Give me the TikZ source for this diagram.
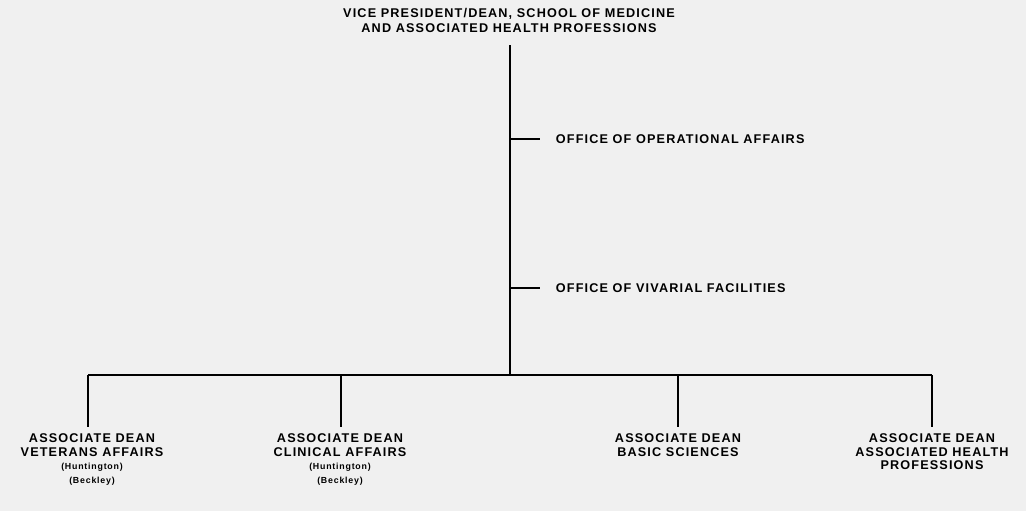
\documentclass[tikz,border=0pt]{standalone}
\usepackage{fontspec}
\setmainfont{Liberation Sans}
\newfontfamily\orgfont[LetterSpace=9]{Liberation Sans}
\newcommand\placetxt[1]{{\fontsize{6.6}{9.8}\selectfont\bfseries #1}}
\begin{document}
\begin{tikzpicture}[x=0.75pt, y=-0.75pt, line width=1.4pt,
  lbl/.style={font=\orgfont\fontsize{9.5}{10.1}\selectfont\bfseries, align=center, inner sep=0pt}]

\fill[black!6] (0,0) rectangle (1026,511);
\useasboundingbox (0,0) rectangle (1026,511);

\node[lbl, anchor=north, font=\orgfont\fontsize{9.5}{11.2}\selectfont\bfseries] (vp) at (509,7) {VICE PRESIDENT/DEAN, SCHOOL OF MEDICINE\\AND ASSOCIATED HEALTH PROFESSIONS};

\coordinate (trunk) at (510,45);
\coordinate (hub) at (510,375);
\coordinate (t1) at (510,139);
\coordinate (t2) at (510,288);

\node[lbl, anchor=west] (ops) at (555,139) {OFFICE OF OPERATIONAL AFFAIRS};
\node[lbl, anchor=west] (viv) at (555,288) {OFFICE OF VIVARIAL FACILITIES};

\coordinate (b1) at (88,375);
\coordinate (b2) at (341,375);
\coordinate (b3) at (678,375);
\coordinate (b4) at (932,375);

\node[lbl, anchor=north] (vet) at (92,433) {ASSOCIATE DEAN\\VETERANS AFFAIRS\\\placetxt{(Huntington)}\\\placetxt{(Beckley)}};
\node[lbl, anchor=north] (clin) at (340,433) {ASSOCIATE DEAN\\CLINICAL AFFAIRS\\\placetxt{(Huntington)}\\\placetxt{(Beckley)}};
\node[lbl, anchor=north] (basic) at (678,433) {ASSOCIATE DEAN\\BASIC SCIENCES};
\node[lbl, anchor=north] (ahp) at (932,433) {ASSOCIATE DEAN\\ASSOCIATED HEALTH\\PROFESSIONS};

\draw (trunk) -- (hub);
\draw (t1) -- ([xshift=-11.25pt]ops.west);
\draw (t2) -- ([xshift=-11.25pt]viv.west);
\draw (b1) -- (b4);
\draw[shorten >=4.5pt] (b1) -- (b1 |- vet.north);
\draw[shorten >=4.5pt] (b2) -- (b2 |- clin.north);
\draw[shorten >=4.5pt] (b3) -- (basic.north);
\draw[shorten >=4.5pt] (b4) -- (ahp.north);

\end{tikzpicture}
\end{document}
